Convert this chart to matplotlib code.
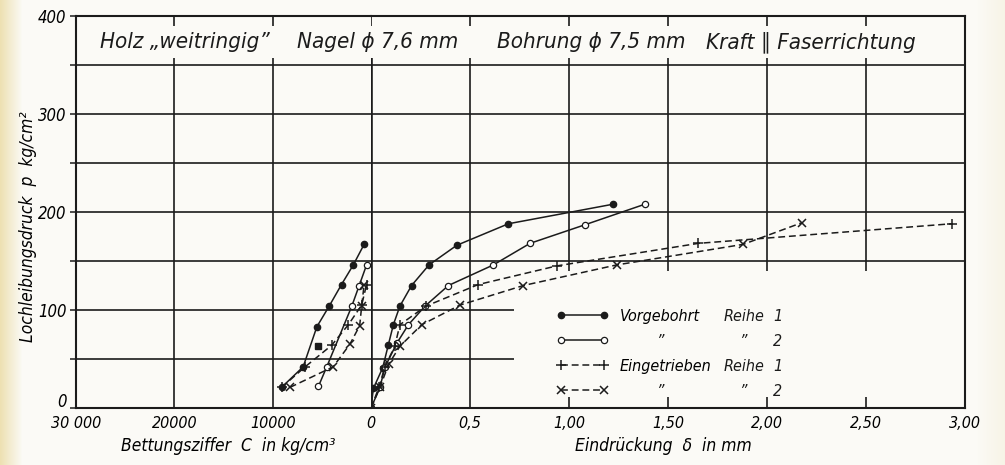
import numpy as np
import matplotlib
matplotlib.use('Agg')
import matplotlib.pyplot as plt
import matplotlib.transforms as mtransforms
from matplotlib import font_manager

# right half: Eindrueckung delta (mm) against Lochleibungsdruck p (kg/cm2)
vb1_d = [0, 0.012, 0.059, 0.087, 0.113, 0.146, 0.205, 0.293, 0.433, 0.694, 1.224]
vb1_p = [0, 20, 41, 64, 85, 104, 125, 146, 166, 188, 208]
vb2_d = [0, 0.045, 0.071, 0.13, 0.189, 0.273, 0.391, 0.618, 0.803, 1.081, 1.384]
vb2_p = [0, 21, 42, 66, 85, 104, 125, 146, 168, 187, 208]
et1_d = [0, 0.04, 0.07, 0.12, 0.146, 0.278, 0.542, 0.938, 1.653, 2.933]
et1_p = [0, 21, 42, 63, 85, 104, 126, 145, 168, 188]
et2_d = [0, 0.045, 0.09, 0.146, 0.256, 0.449, 0.77, 1.241, 1.88, 2.175]
et2_p = [0, 21, 45, 63, 85, 105, 125, 146, 167, 189]

# left half: Bettungsziffer C (kg/cm3) against p
c_vb1 = [9100, 6900, 5500, 4250, 3000, 1800, 700]
c_vb1_p = [21, 42, 83, 104, 126, 146, 167]
c_vb1_extra = [5350]
c_vb1_extra_p = [63]
c_vb2 = [5350, 4500, 1950, 1200, 450]
c_vb2_p = [22, 42, 104, 125, 146]
c_et1 = [9100, 6700, 4000, 2300, 950, 450]
c_et1_p = [21, 42, 64, 85, 105, 126]
c_et2 = [8250, 3850, 2150, 1150, 950, 700]
c_et2_p = [21, 42, 65, 84, 104, 126]

c_ticks = [30000, 20000, 10000, 0]
c_ticklabels = ['30 000', '20000', '10000', '0']
d_ticks = [0.5, 1.0, 1.5, 2.0, 2.5, 3.0]
d_ticklabels = ['0,5', '1,00', '1,50', '2,00', '2,50', '3,00']
p_ticks = list(range(0, 401, 50))
p_ticklabels = [str(v) if v % 100 == 0 else '' for v in p_ticks]

# narrow italic lettering
fonts = font_manager.fontManager.ttflist
if any(f.name == 'DejaVu Sans' and 'condensed' in str(f.stretch) for f in fonts):
    plt.rcParams['font.family'] = ['DejaVu Sans']
    plt.rcParams['font.stretch'] = 'condensed'
elif any(f.name == 'Liberation Sans Narrow' for f in fonts):
    plt.rcParams['font.family'] = ['Liberation Sans Narrow', 'DejaVu Sans']
else:
    plt.rcParams['font.family'] = ['DejaVu Sans']
plt.rcParams['font.style'] = 'italic'

ink = '#1b1b1b'
W, H = 1005, 465
x0, xz, x1 = 76, 371, 965
yb, yt = 408, 16

fig = plt.figure(figsize=(W / 100, H / 100), dpi=100)

# paper tone with a yellowed left margin
bg = fig.add_axes([0, 0, 1, 1], zorder=-10)
xs = np.arange(W)
tone = np.clip(1 - xs / 22.0, 0, 1)[None, :, None]
right = np.clip((xs - 975) / 30.0, 0, 1)[None, :, None]
base = np.array([0.985, 0.982, 0.965])
yellow = np.array([0.93, 0.88, 0.70])
pale = np.array([0.97, 0.955, 0.90])
img = base * (1 - tone) + yellow * tone
img = img * (1 - right) + pale * right
bg.imshow(np.repeat(img, 2, axis=0), aspect='auto', extent=[0, 1, 0, 1])
bg.set_axis_off()

axL = fig.add_axes([x0 / W, 1 - yb / H, (xz - x0) / W, (yb - yt) / H])
axR = fig.add_axes([xz / W, 1 - yb / H, (x1 - xz) / W, (yb - yt) / H])
for ax in (axL, axR):
    ax.set_facecolor('none')
    ax.set_ylim(0, 400)
    for s in ax.spines.values():
        s.set_linewidth(1.5)
        s.set_color(ink)
axL.spines['right'].set_visible(False)
axR.spines['left'].set_visible(False)

axL.set_xlim(30000, 0)
axR.set_xlim(0, 3)

# grid
glw = 1.2
for ax in (axL, axR):
    ax.hlines([150, 200, 250, 300, 350], *ax.get_xlim(), color=ink, lw=glw)
axL.hlines([50, 100], 30000, 0, color=ink, lw=glw)
axR.hlines([50, 100], 0, 0.72, color=ink, lw=glw)

axL.vlines([20000, 10000], 0, 357, color=ink, lw=glw)
axL.vlines([20000, 10000], 390, 400, color=ink, lw=glw)
axR.vlines(0.5, 0, 357, color=ink, lw=glw)
axR.vlines([1.0, 1.5, 2.0, 2.5], 140, 357, color=ink, lw=glw)
axR.vlines([1.0, 1.5, 2.0, 2.5], 0, 11, color=ink, lw=glw)
axR.vlines([0, 0.5, 1.0, 1.5, 2.0, 2.5], 390, 400, color=ink, lw=glw)
axR.vlines(0, 0, 357, color=ink, lw=2.6)

# curves
solid = dict(color=ink, lw=1.1)
dash = dict(color=ink, lw=1.1, ls=(0, (4.5, 2.5)))
m_fill = dict(marker='o', ms=4.5, mfc=ink, mec=ink)
m_open = dict(marker='o', ms=4.5, mfc='white', mec=ink, mew=0.9)
m_plus = dict(marker='+', ms=7, mec=ink, mew=1.1)
m_x = dict(marker='x', ms=5.5, mec=ink, mew=1.1)

h1, = axR.plot(vb1_d, vb1_p, **solid, **m_fill)
h2, = axR.plot(vb2_d, vb2_p, **solid, **m_open)
h3, = axR.plot(et1_d, et1_p, **dash, **m_plus)
h4, = axR.plot(et2_d, et2_p, **dash, **m_x)

axL.plot(c_vb1, c_vb1_p, **solid, **m_fill)
axL.plot(c_vb1_extra, c_vb1_extra_p, ls='none', marker='s', ms=4, mfc=ink, mec=ink)
axL.plot(c_vb2, c_vb2_p, **solid, **m_open)
axL.plot(c_et1, c_et1_p, **dash, **m_plus)
axL.plot(c_et2, c_et2_p, **dash, **m_x)

# ticks
axL.set_xticks(c_ticks, c_ticklabels, fontsize=11.5)
axR.set_xticks(d_ticks, d_ticklabels, fontsize=11.5)
axL.set_yticks(p_ticks, p_ticklabels, fontsize=12)
axR.set_yticks([])
axL.tick_params(axis='x', length=0, pad=6)
axR.tick_params(axis='x', length=0, pad=6)
axL.tick_params(axis='y', length=4, width=1.1, color=ink, pad=3)
# lift the zero label clear of the C axis numbers
zero_lbl = axL.get_yticklabels()[0]
zero_lbl.set_transform(zero_lbl.get_transform() +
                       mtransforms.ScaledTranslation(0, 6 / 72, fig.dpi_scale_trans))

axL.set_ylabel('Lochleibungsdruck  p  kg/cm²', fontsize=12.5)
axL.yaxis.set_label_coords((37 - x0) / (xz - x0), (yb - 227) / (yb - yt))
axL.set_xlabel('Bettungsziffer  C  in kg/cm³', fontsize=12.5)
axL.xaxis.set_label_coords((228 - x0) / (xz - x0), -0.074)
axR.set_xlabel('Eindrückung  δ  in mm', fontsize=12.5)
axR.xaxis.set_label_coords((663 - xz) / (x1 - xz), -0.074)

# header band
hdr = dict(fontsize=16, ha='center', va='center', color=ink)
axL.text(18900, 373, 'Holz „weitringig”', **hdr)
axR.text(0.035, 373, 'Nagel ϕ 7,6 mm', **hdr)
axR.text(1.11, 373, 'Bohrung ϕ 7,5 mm', **hdr)
axR.text(2.22, 373, 'Kraft ∥ Faserrichtung', **hdr)

# legend
leg = axR.legend([h1, h2, h3, h4], ['Vorgebohrt', ' ', 'Eingetrieben', ' '],
                 loc='upper left', bbox_to_anchor=(0.935, 101),
                 bbox_transform=axR.transData, frameon=False, numpoints=2,
                 handlelength=3.3, handletextpad=0.7, labelspacing=0.62,
                 borderpad=0, borderaxespad=0, fontsize=11.5)
fig.canvas.draw()
inv = axR.transData.inverted()
rows = []
for t in leg.get_texts():
    bb = t.get_window_extent()
    rows.append(inv.transform((0, (bb.y0 + bb.y1) / 2))[1])
col = dict(fontsize=11.5, va='center', color=ink)
for i, y in enumerate(rows):
    if i % 2 == 0:
        axR.text(1.78, y, 'Reihe', **col)
    else:
        axR.text(1.46, y, '”', ha='center', **col)
        axR.text(1.88, y, '”', ha='center', **col)
    axR.text(2.03, y, '1' if i % 2 == 0 else '2', **col)

fig.savefig('out.png', dpi=100)
